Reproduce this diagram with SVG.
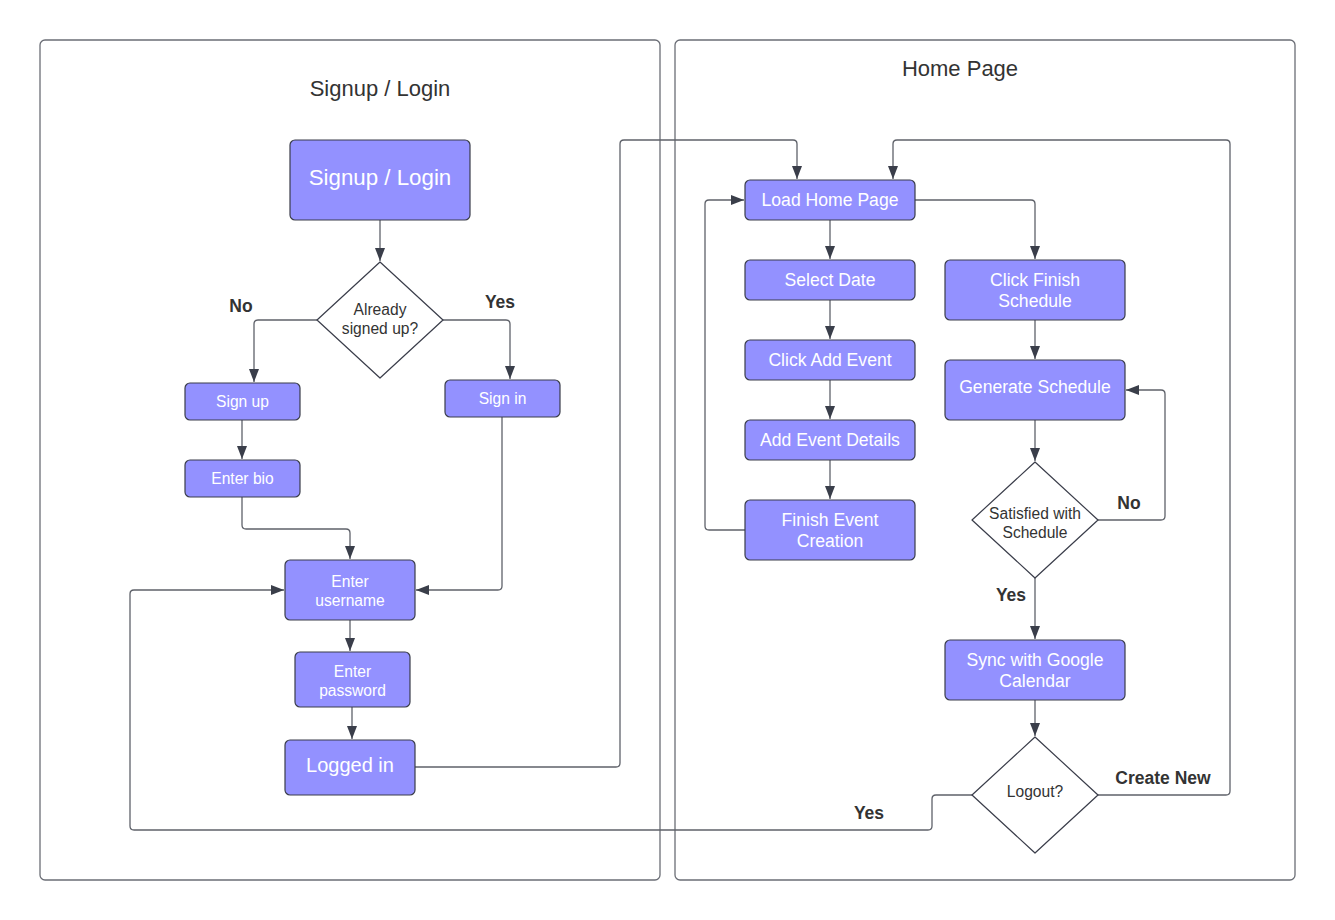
<svg xmlns="http://www.w3.org/2000/svg" width="1335" height="920" viewBox="0 0 1335 920">
<defs>
<marker id="arr" markerUnits="userSpaceOnUse" markerWidth="14" markerHeight="14" viewBox="0 0 14 14" refX="13" refY="7" orient="auto">
<path d="M0,2 L13,7 L0,12 Z" fill="#3a3e4a"/>
</marker>
<style>
.frame{fill:#fff;stroke:#6b6e76;stroke-width:1.3}
.box{fill:#9391ff;stroke:#3a3d4a;stroke-width:1.2}
.dia{fill:#fff;stroke:#3a3d4a;stroke-width:1.2;stroke-linejoin:round}
.t{font-family:"Liberation Sans",Arial,sans-serif;fill:#fff;text-anchor:middle}
.d{font-family:"Liberation Sans",Arial,sans-serif;fill:#333;text-anchor:middle;font-size:15.6px}
.ttl{font-family:"Liberation Sans",Arial,sans-serif;fill:#333;text-anchor:middle;font-size:22px}
.lbl{font-family:"Liberation Sans",Arial,sans-serif;fill:#333;text-anchor:middle;font-size:17.5px;font-weight:bold}
.c{fill:none;stroke:#5f626a;stroke-width:1.3;stroke-linejoin:round}
.a{marker-end:url(#arr)}
</style>
</defs>
<rect width="1335" height="920" fill="#fff"/>

<g id="frame-signup">
<rect class="frame" x="40" y="40" width="620" height="840" rx="5"/>
<text class="ttl" x="380" y="96">Signup / Login</text>
</g>
<g id="frame-home">
<rect class="frame" x="675" y="40" width="620" height="840" rx="5"/>
<text class="ttl" x="960" y="76">Home Page</text>
</g>

<g id="connectors">
<path class="c a" d="M380,220 V261"/>
<path class="c a" d="M317,320 H258 Q254,320 254,324 V382"/>
<path class="c a" d="M443,320 H506 Q510,320 510,324 V379"/>
<path class="c a" d="M242,420 V459"/>
<path class="c a" d="M242,497 V525 Q242,529 246,529 H346 Q350,529 350,533 V559"/>
<path class="c a" d="M502,417 V586 Q502,590 498,590 H416"/>
<path class="c a" d="M350,620 V651"/>
<path class="c a" d="M352,707 V739"/>
<path class="c a" d="M415,767 H616 Q620,767 620,763 V144 Q620,140 624,140 H793 Q797,140 797,144 V179"/>
<path class="c a" d="M972,795 H936 Q932,795 932,799 V826 Q932,830 928,830 H134 Q130,830 130,826 V594 Q130,590 134,590 H284"/>
<path class="c a" d="M1098,795 H1226 Q1230,795 1230,791 V144 Q1230,140 1226,140 H897 Q893,140 893,144 V179"/>
<path class="c a" d="M830,220 V259"/>
<path class="c a" d="M830,300 V339"/>
<path class="c a" d="M830,380 V419"/>
<path class="c a" d="M830,460 V499"/>
<path class="c a" d="M745,530 H709 Q705,530 705,526 V204 Q705,200 709,200 H744"/>
<path class="c a" d="M915,200 H1031 Q1035,200 1035,204 V259"/>
<path class="c a" d="M1035,320 V359"/>
<path class="c a" d="M1035,420 V461"/>
<path class="c a" d="M1098,520 H1161 Q1165,520 1165,516 V394 Q1165,390 1161,390 H1126"/>
<path class="c a" d="M1035,578 V639"/>
<path class="c a" d="M1035,700 V736"/>
<text class="lbl" x="241" y="312">No</text>
<text class="lbl" x="500" y="308">Yes</text>
<text class="lbl" x="1129" y="509">No</text>
<text class="lbl" x="1011" y="601">Yes</text>
<text class="lbl" x="1163" y="784">Create New</text>
<text class="lbl" x="869" y="819">Yes</text>
</g>

<g id="n-signup-login">
<rect class="box" x="290" y="140" width="180" height="80" rx="5"/>
<text class="t" x="380" y="185" font-size="22.3">Signup / Login</text>
</g>
<g id="n-already">
<path class="dia" d="M380,262 L443,320 L380,378 L317,320 Z"/>
<text class="d" x="380" y="315">Already</text>
<text class="d" x="380" y="334">signed up?</text>
</g>
<g id="n-signup">
<rect class="box" x="185" y="383" width="115" height="37" rx="5"/>
<text class="t" x="242.5" y="407" font-size="15.6">Sign up</text>
</g>
<g id="n-signin">
<rect class="box" x="445" y="380" width="115" height="37" rx="5"/>
<text class="t" x="502.5" y="404" font-size="15.6">Sign in</text>
</g>
<g id="n-bio">
<rect class="box" x="185" y="460" width="115" height="37" rx="5"/>
<text class="t" x="242.5" y="484" font-size="15.6">Enter bio</text>
</g>
<g id="n-username">
<rect class="box" x="285" y="560" width="130" height="60" rx="5"/>
<text class="t" x="350" y="587" font-size="15.6">Enter</text>
<text class="t" x="350" y="606" font-size="15.6">username</text>
</g>
<g id="n-password">
<rect class="box" x="295" y="652" width="115" height="55" rx="5"/>
<text class="t" x="352.5" y="677" font-size="15.6">Enter</text>
<text class="t" x="352.5" y="696" font-size="15.6">password</text>
</g>
<g id="n-loggedin">
<rect class="box" x="285" y="740" width="130" height="55" rx="5"/>
<text class="t" x="350" y="772" font-size="20">Logged in</text>
</g>

<g id="n-load">
<rect class="box" x="745" y="180" width="170" height="40" rx="5"/>
<text class="t" x="830" y="206" font-size="17.6">Load Home Page</text>
</g>
<g id="n-date">
<rect class="box" x="745" y="260" width="170" height="40" rx="5"/>
<text class="t" x="830" y="286" font-size="17.6">Select Date</text>
</g>
<g id="n-addevent">
<rect class="box" x="745" y="340" width="170" height="40" rx="5"/>
<text class="t" x="830" y="366" font-size="17.6">Click Add Event</text>
</g>
<g id="n-details">
<rect class="box" x="745" y="420" width="170" height="40" rx="5"/>
<text class="t" x="830" y="446" font-size="17.6">Add Event Details</text>
</g>
<g id="n-finish-event">
<rect class="box" x="745" y="500" width="170" height="60" rx="5"/>
<text class="t" x="830" y="526" font-size="17.6">Finish Event</text>
<text class="t" x="830" y="547" font-size="17.6">Creation</text>
</g>
<g id="n-click-finish">
<rect class="box" x="945" y="260" width="180" height="60" rx="5"/>
<text class="t" x="1035" y="286" font-size="17.6">Click Finish</text>
<text class="t" x="1035" y="307" font-size="17.6">Schedule</text>
</g>
<g id="n-generate">
<rect class="box" x="945" y="360" width="180" height="60" rx="5"/>
<text class="t" x="1035" y="393" font-size="17.6">Generate Schedule</text>
</g>
<g id="n-satisfied">
<path class="dia" d="M1035,462 L1098,520 L1035,578 L972,520 Z"/>
<text class="d" x="1035" y="519">Satisfied with</text>
<text class="d" x="1035" y="538">Schedule</text>
</g>
<g id="n-sync">
<rect class="box" x="945" y="640" width="180" height="60" rx="5"/>
<text class="t" x="1035" y="666" font-size="17.6">Sync with Google</text>
<text class="t" x="1035" y="687" font-size="17.6">Calendar</text>
</g>
<g id="n-logout">
<path class="dia" d="M1035,737 L1098,795 L1035,853 L972,795 Z"/>
<text class="d" x="1035" y="797">Logout?</text>
</g>
</svg>
